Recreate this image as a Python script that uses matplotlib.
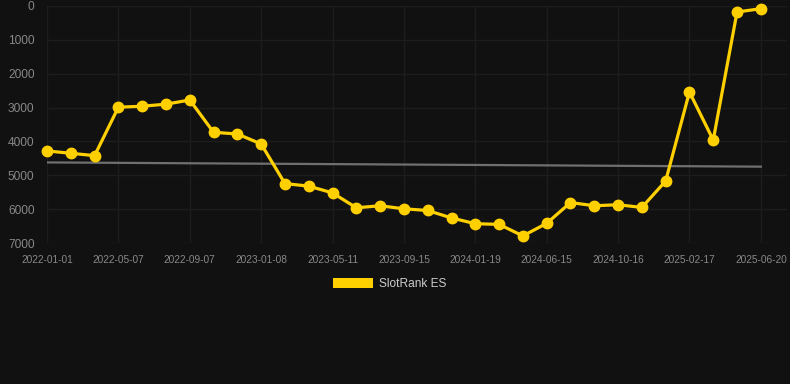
import matplotlib
matplotlib.use("Agg")
import matplotlib.pyplot as plt
from matplotlib.patches import Patch

dates = [
    "2022-01-01", "2022-02-12", "2022-03-26", "2022-05-07", "2022-06-17", "2022-07-28",
    "2022-09-07", "2022-10-18", "2022-11-28", "2023-01-08", "2023-02-18", "2023-03-31",
    "2023-05-11", "2023-06-22", "2023-08-03", "2023-09-15", "2023-10-27", "2023-12-08",
    "2024-01-19", "2024-03-08", "2024-04-27", "2024-06-15", "2024-07-26", "2024-09-05",
    "2024-10-16", "2024-11-28", "2025-01-07", "2025-02-17", "2025-03-31", "2025-05-10",
    "2025-06-20",
]
rank = [
    4280, 4350, 4420, 2990, 2960, 2900, 2776, 3730, 3780, 4075, 5245, 5320,
    5520, 5960, 5900, 5990, 6040, 6260, 6430, 6450, 6790, 6420, 5805, 5900,
    5870, 5950, 5170, 2540, 3960, 177, 80,
]
trend = [4620, 4745]
yticks = [0, 1000, 2000, 3000, 4000, 5000, 6000, 7000]
series_name = "SlotRank ES"

plt.rcParams['font.family'] = ['Liberation Sans', 'DejaVu Sans']
BG = "#111111"
fig = plt.figure(figsize=(7.9, 3.84), dpi=100, facecolor=BG)
ax = fig.add_axes([47/790, 1-243/384, (787-47)/790, (243-6)/384])
ax.set_facecolor(BG)

x = list(range(len(rank)))
ax.plot([x[0], x[-1]], trend, color="#707070", lw=1.6, zorder=2)
ax.plot(x, rank, color="#FFD000", lw=2.3, marker="o", markersize=7.5,
        markerfacecolor="#FFD000", markeredgecolor="#FFD000", zorder=3,
        clip_on=False)

ax.set_ylim(7000, 0)
ax.set_xlim(-0.0, 31.1)
ax.set_yticks(yticks)
ax.set_yticklabels([str(v) for v in yticks])
xt = x[::3]
ax.set_xticks(xt)
ax.set_xticklabels([dates[i] for i in xt])

for s in ax.spines.values():
    s.set_visible(False)
ax.grid(True, color="#1d1d1d", lw=1.0)
ax.set_axisbelow(True)
ax.tick_params(axis="y", length=0, pad=9, labelsize=8.6, labelcolor="#888888")
ax.tick_params(axis="x", length=0, pad=8.5, labelsize=7.3, labelcolor="#888888")

fs = 8.6
fspx = fs * 100 / 72
handle = Patch(facecolor="#FFD000", edgecolor="none")
fig.legend([handle], [series_name], loc="center", bbox_to_anchor=(390/790, 1-284/384),
           frameon=False, fontsize=fs, labelcolor="#cccccc",
           handlelength=40/fspx, handleheight=11/fspx, handletextpad=6/fspx,
           borderpad=0, borderaxespad=0)

fig.savefig("out.png", dpi=100, facecolor=BG)
